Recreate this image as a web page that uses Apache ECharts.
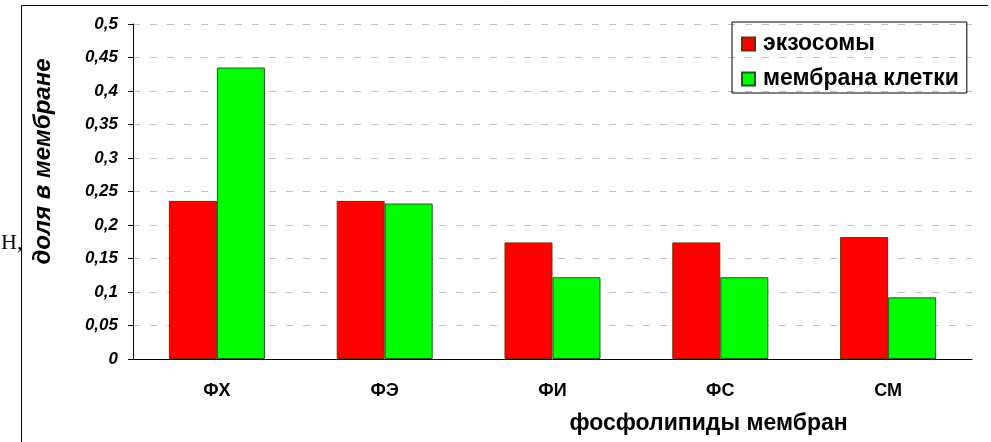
<!DOCTYPE html>
<html>
<head>
<meta charset="utf-8">
<script src="https://cdn.jsdelivr.net/npm/echarts@6/dist/echarts.min.js"></script>
<style>
    html, body {margin: 0; padding: 0; background: #fff;}
    #chart {width: 991px; height: 442px;}
</style>
</head>
<body>
<div id="chart"></div>
<script>
let categories = ['ФХ', 'ФЭ', 'ФИ', 'ФС', 'СМ']
let exosomes = [0.236, 0.236, 0.174, 0.174, 0.182]
let cellMembrane = [0.435, 0.232, 0.122, 0.122, 0.092]

let chart = echarts.init(document.getElementById('chart'))
let option = {
    animation: false,
    textStyle: {fontFamily: 'Liberation Sans', color: '#000'},
    grid: {left: 133, right: 19, top: 24, bottom: 83},
    legend: {
        orient: 'vertical',
        left: 732,
        top: 22,
        padding: [10, 8, 2, 9],
        itemGap: 11,
        itemWidth: 13,
        itemHeight: 13,
        borderColor: '#000',
        borderWidth: 1,
        icon: 'rect',
        textStyle: {fontSize: 23, fontWeight: 'bold', color: '#000', lineHeight: 24, padding: [0, 0, 0, 3]}
    },
    xAxis: {
        type: 'category',
        data: categories,
        name: 'фосфолипиды мембран',
        nameLocation: 'middle',
        nameGap: 53,
        nameTextStyle: {fontSize: 23, fontWeight: 'bold', color: '#000', padding: [0, 0, 0, 312]},
        axisLine: {lineStyle: {color: '#000', width: 1}},
        axisTick: {length: 5, lineStyle: {color: '#000'}},
        axisLabel: {margin: 23, fontSize: 18, fontWeight: 'bold', color: '#000'}
    },
    yAxis: {
        type: 'value',
        min: 0,
        max: 0.5,
        interval: 0.05,
        name: 'доля в мембране',
        nameLocation: 'middle',
        nameRotate: 90,
        nameGap: 78,
        nameTextStyle: {fontSize: 24, fontWeight: 'bold', fontStyle: 'italic', color: '#000', padding: [0, 0, 0, 60]},
        axisLine: {show: true, lineStyle: {color: '#000', width: 1}},
        axisTick: {show: true, length: 5, lineStyle: {color: '#000'}},
        axisLabel: {
            margin: 15,
            fontSize: 17,
            fontWeight: 'bold',
            fontStyle: 'italic',
            color: '#000',
            formatter: function (v) {
                return String(+v.toFixed(2)).replace('.', ',')
            }
        },
        splitLine: {lineStyle: {color: '#c0c0c0', type: [7, 10], width: 1}}
    },
    series: [{
        name: 'экзосомы',
        type: 'bar',
        data: exosomes,
        barWidth: 48,
        barGap: '0%',
        itemStyle: {color: '#ff0000', borderColor: '#7a2a00', borderWidth: 1}
    }, {
        name: 'мембрана клетки',
        type: 'bar',
        data: cellMembrane,
        barWidth: 48,
        barGap: '0%',
        itemStyle: {color: '#00ff00', borderColor: '#1a5a1a', borderWidth: 1}
    }],
    graphic: [{
        type: 'polyline',
        shape: {points: [[21.5, 442], [21.5, 5.5], [988, 5.5]]},
        style: {stroke: '#000', lineWidth: 1, fill: null}
    }, {
        type: 'text',
        left: 1,
        top: 232,
        style: {text: 'Н,', fontSize: 22, fontFamily: 'Liberation Serif', fill: '#000'}
    }]
}
chart.setOption(option)
</script>
</body>
</html>
